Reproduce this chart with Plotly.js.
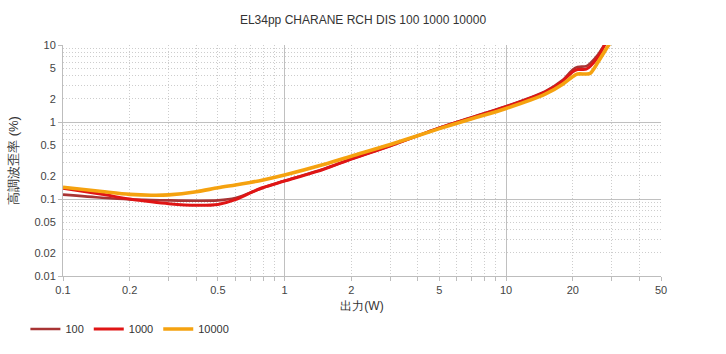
<!DOCTYPE html>
<html>
<head>
<meta charset="utf-8">
<script src="https://cdn.plot.ly/plotly-3.0.1.min.js"></script>
<style>html,body{margin:0;padding:0;background:#fff;}#chart{width:726px;height:354px;}</style>
</head>
<body>
<div id="chart"></div>
<script>
// Data (output power in W vs THD in %)
const power = [0.1, 0.15, 0.2, 0.25, 0.3, 0.4, 0.5, 0.6, 0.7, 0.8, 1, 1.5, 2, 3, 5, 7, 10, 15, 18, 20, 21, 23, 24, 26, 28, 30];
const thd100 = [0.114, 0.104, 0.099, 0.097, 0.096, 0.095, 0.096, 0.103, 0.121, 0.140, 0.172, 0.245, 0.33, 0.49, 0.84, 1.15, 1.60, 2.5, 3.5, 4.8, 5.2, 5.3, 5.8, 7.5, 10.5, 14];
const thd1000 = [0.138, 0.115, 0.100, 0.092, 0.087, 0.083, 0.085, 0.098, 0.120, 0.141, 0.171, 0.243, 0.33, 0.49, 0.84, 1.14, 1.58, 2.45, 3.4, 4.5, 4.8, 4.85, 5.3, 7.0, 10.3, 14];
const thd10000 = [0.142, 0.125, 0.115, 0.112, 0.113, 0.124, 0.140, 0.152, 0.164, 0.177, 0.205, 0.28, 0.36, 0.51, 0.82, 1.1, 1.50, 2.3, 3.1, 3.9, 4.2, 4.2, 4.3, 6.0, 8.5, 11.5];
const seriesNames = ["100", "1000", "10000"];
const seriesColors = ["#a83434", "#e01515", "#f5a20f"];

const xTickVals = [0.1, 0.2, 0.5, 1, 2, 5, 10, 20, 50];
const xTickText = ["0.1", "0.2", "0.5", "1", "2", "5", "10", "20", "50"];
const yTickVals = [0.01, 0.02, 0.05, 0.1, 0.2, 0.5, 1, 2, 5, 10];
const yTickText = ["0.01", "0.02", "0.05", "0.1", "0.2", "0.5", "1", "2", "5", "10"];

function minorVals(lo, hi) {
  const out = [];
  for (let d = lo; d < hi; d *= 10) {
    for (let m = 2; m <= 9; m++) {
      const v = +(m * d).toPrecision(3);
      if (v <= hi) out.push(v);
    }
  }
  return out;
}
const xMinor = minorVals(0.1, 50);
const yMinor = minorVals(0.01, 10);
const xMajor = [1, 10];
const yMajor = [0.01, 0.1, 1, 10];

const xRange = [Math.log10(0.1), Math.log10(50)];
const yRange = [Math.log10(0.01), Math.log10(10)];

const widths = [2.6, 3, 3.6];
const ys = [thd100, thd1000, thd10000];
const traces = ys.map((y, i) => ({
  x: power, y: y, name: seriesNames[i], type: "scatter", mode: "lines",
  line: {color: seriesColors[i], width: widths[i], shape: "spline", smoothing: 0.8},
  xaxis: "x", yaxis: "y", cliponaxis: true
}));
// empty helper traces so the grid-only axes exist
traces.push({x: [], y: [], xaxis: "x2", yaxis: "y2", showlegend: false, hoverinfo: "skip", type: "scatter"});
traces.push({x: [], y: [], xaxis: "x3", yaxis: "y3", showlegend: false, hoverinfo: "skip", type: "scatter"});

const font = "Liberation Sans, Arial, sans-serif";
const gridAxis = (vals, range, color, dash, overlay, anchor, ticks) => ({
  type: "log", range: range, tickvals: vals, showticklabels: false,
  ticks: ticks ? "outside" : "", ticklen: 4, tickcolor: "#bdbdbd",
  showgrid: true, gridcolor: color, griddash: dash, gridwidth: 1,
  zeroline: false, showline: false, overlaying: overlay, anchor: anchor, fixedrange: true
});

const layout = {
  width: 726, height: 354,
  paper_bgcolor: "#fff", plot_bgcolor: "rgba(0,0,0,0)",
  margin: {l: 63, r: 65, t: 45, b: 78},
  font: {family: font, size: 11, color: "#444"},
  title: {text: "EL34pp CHARANE RCH DIS 100 1000 10000", font: {family: font, size: 12, color: "#333"}, x: 0.5, xanchor: "center", y: 0.945, yanchor: "middle"},
  xaxis: {
    type: "log", range: xRange, tickvals: xTickVals, ticktext: xTickText,
    showgrid: false, zeroline: false, showline: true, linecolor: "#bdbdbd", linewidth: 1,
    ticks: "outside", ticklen: 4, tickcolor: "#bdbdbd", tickfont: {size: 11, color: "#444"},
    title: {text: "出力(W)", font: {size: 12, color: "#333"}, standoff: 6},
    automargin: false
  },
  yaxis: {
    type: "log", range: yRange, tickvals: yTickVals, ticktext: yTickText,
    showgrid: false, zeroline: false, showline: true, linecolor: "#bdbdbd", linewidth: 1,
    ticks: "outside", ticklen: 4, tickcolor: "rgba(0,0,0,0)", tickfont: {size: 11, color: "#444"},
    title: {text: "高調波歪率 (%)", font: {size: 13, color: "#333"}, standoff: 12},
    automargin: false
  },
  xaxis2: gridAxis(xMinor, xRange, "#cdcdcd", "1px,2px", "x", "y", true),
  yaxis2: gridAxis(yMinor, yRange, "#cdcdcd", "1px,2px", "y", "x", false),
  xaxis3: gridAxis(xMajor.concat([50]), xRange, "#c0c0c0", "solid", "x", "y", false),
  yaxis3: gridAxis(yMajor, yRange, "#c0c0c0", "solid", "y", "x", true),
  showlegend: true,
  legend: {
    orientation: "h", xref: "container", yref: "container",
    x: 0.035, xanchor: "left", y: 1 - 329 / 354, yanchor: "middle",
    font: {size: 11, color: "#333"}, itemwidth: 30, bgcolor: "rgba(0,0,0,0)"
  },
  hovermode: false
};

Plotly.newPlot("chart", traces, layout, {staticPlot: true, displayModeBar: false});
</script>
</body>
</html>
